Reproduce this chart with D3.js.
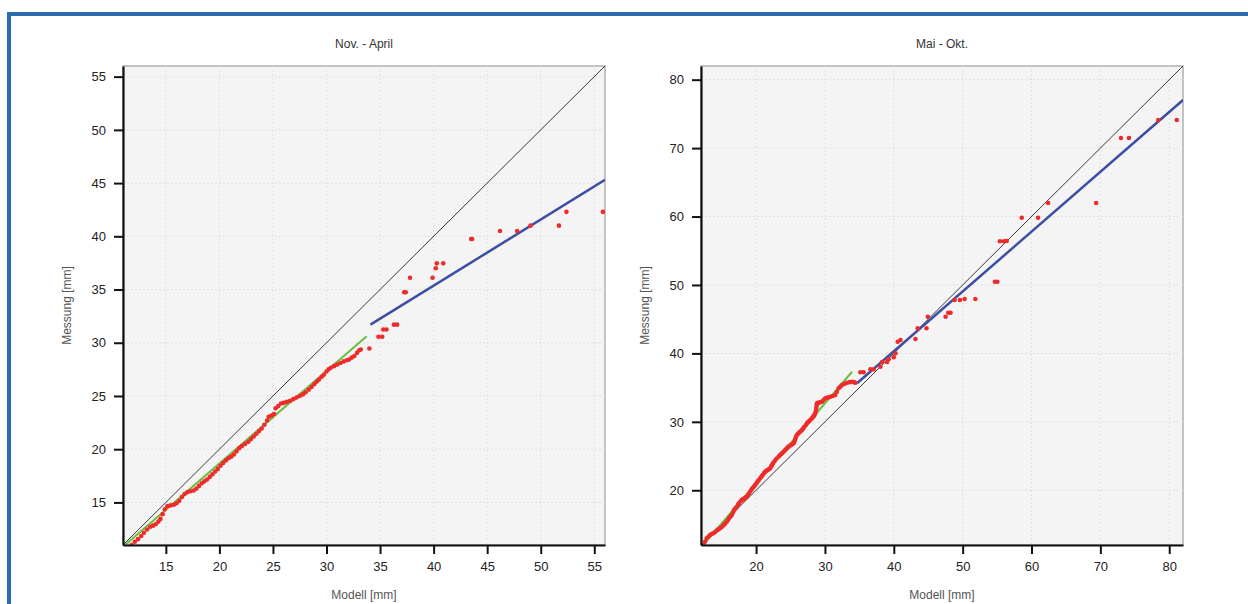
<!DOCTYPE html>
<html><head><meta charset="utf-8">
<script src="https://cdn.jsdelivr.net/npm/d3@7"></script>
<style>body{margin:0;background:#fff;}svg{display:block;}</style>
</head><body>
<svg id="c" width="1248" height="604"></svg>
<script>
// ---------- DATA ----------
const titles = ["Nov. - April", "Mai - Okt."];
const xLabel = "Modell [mm]";
const yLabel = "Messung [mm]";
const novAprDomain = [11, 56];
const maiOktDomain = [12, 82];
const novAprTicks = [15, 20, 25, 30, 35, 40, 45, 50, 55];
const maiOktTicks = [20, 30, 40, 50, 60, 70, 80];

// Nov-April measured vs model quantiles
const novAprPoints = [
[11.8,11.0],[12.1,11.3],[12.4,11.55],[12.7,11.85],[12.95,12.15],[13.25,12.45],[13.55,12.72],[13.8,12.82],
[14.05,12.95],[14.3,13.2],[14.5,13.45],[14.7,13.9],[14.9,14.35],[15.15,14.65],[15.45,14.72],[15.75,14.78],
[16.0,14.92],[16.25,15.15],[16.5,15.5],[16.75,15.78],[17.0,15.95],[17.3,16.05],[17.6,16.12],[17.85,16.3],
[18.1,16.55],[18.35,16.8],[18.6,16.98],[18.85,17.15],[19.1,17.4],[19.35,17.65],[19.6,17.9],[19.85,18.15],
[20.1,18.45],[20.35,18.7],[20.6,18.95],[20.85,19.15],[21.1,19.3],[21.35,19.5],[21.6,19.8],[21.85,20.1],
[22.1,20.3],[22.4,20.5],[22.7,20.7],[22.95,20.95],[23.2,21.2],[23.45,21.45],[23.7,21.7],[23.95,21.95],
[24.2,22.3],[24.45,22.7],[24.6,23.05],[24.85,23.15],[25.1,23.3],[25.25,23.85],[25.5,24.05],[25.75,24.3],
[26.0,24.35],[26.3,24.45],[26.6,24.55],[26.9,24.7],[27.2,24.85],[27.5,25.0],[27.8,25.15],[28.05,25.35],
[28.35,25.6],[28.6,25.85],[28.85,26.1],[29.1,26.35],[29.3,26.55],[29.55,26.8],[29.75,27.0],[30.0,27.3],
[30.2,27.5],[30.4,27.65],[30.7,27.8],[31.0,27.95],[31.3,28.1],[31.6,28.25],[31.9,28.35],[32.1,28.42],
[32.35,28.6],[32.6,28.75],[32.85,29.05],[33.05,29.3],[33.2,29.37],
[34.0,29.46],[34.85,30.56],[35.2,30.56],[35.3,31.25],[35.6,31.25],[36.3,31.7],[36.6,31.7],
[37.25,34.75],[37.4,34.75],[37.8,36.1],[39.9,36.1],[40.2,37.0],[40.3,37.46],[40.9,37.46],
[43.5,39.75],[43.6,39.75],[46.2,40.5],[47.8,40.5],[49.05,41.0],[51.7,41.0],[52.4,42.3],[55.8,42.3]
];
const novAprGreen = [[11.19, 11.0], [33.75, 30.61]];
const novAprBlue = [[34.1, 31.7], [56.0, 45.3]];

// Mai-Okt measured vs model quantiles
const maiOktPoints = [
[12.33,12.0],[12.6,12.5],[12.83,12.98],[13.1,13.25],[13.31,13.46],[13.55,13.6],[13.79,13.71],[14.05,13.9],
[14.28,14.12],[14.52,14.28],[14.77,14.44],[15.0,14.62],[15.25,14.85],[15.5,15.1],[15.74,15.4],[15.95,15.7],
[16.08,15.95],[16.3,16.15],[16.47,16.38],[16.65,16.75],[16.8,17.11],[17.0,17.35],[17.2,17.6],[17.38,17.9],
[17.53,18.14],[17.75,18.4],[17.92,18.58],[18.1,18.7],[18.26,18.8],[18.45,18.92],[18.65,19.06],[18.9,19.4],
[19.13,19.79],[19.3,20.05],[19.5,20.33],[19.7,20.55],[19.86,20.77],[20.05,21.0],[20.22,21.28],[20.4,21.5],
[20.59,21.75],[20.78,22.0],[20.95,22.23],[21.15,22.5],[21.32,22.71],[21.5,22.85],[21.68,22.96],[21.86,23.08],
[22.04,23.21],[22.2,23.5],[22.33,23.76],[22.5,24.0],[22.7,24.28],[22.95,24.6],[23.25,24.9],[23.45,25.1],
[23.64,25.3],[23.82,25.45],[23.98,25.63],[24.2,25.85],[24.37,26.03],[24.55,26.2],[24.71,26.37],[24.9,26.5],
[25.1,26.61],[25.3,26.75],[25.44,26.86],[25.6,27.2],[25.68,27.49],[25.8,27.8],[25.93,28.07],[26.1,28.25],
[26.26,28.44],[26.45,28.6],[26.66,28.81],[26.82,29.0],[26.99,29.24],[27.2,29.5],[27.39,29.78],[27.55,29.95],
[27.72,30.12],[27.9,30.3],[28.11,30.52],[28.25,30.7],[28.38,30.85],[28.5,31.05],[28.59,31.25],[28.68,31.6],
[28.74,32.02],[28.8,32.4],[28.84,32.71],[29.0,32.78],[29.18,32.82],[29.37,32.88],[29.57,32.94],[29.8,33.2],
[30.05,33.44],[30.3,33.5],[30.55,33.6],[30.78,33.67],[31.14,33.77],[31.5,33.92],[31.75,34.4],[31.99,34.9],
[32.25,35.15],[32.48,35.38],[32.85,35.55],[33.21,35.72],[33.6,35.8],[33.94,35.86],[34.2,35.8],[34.42,35.72],
[35.14,37.24],[35.62,37.24],[36.6,37.68],[37.08,37.68],[38.06,38.06],[38.3,38.74],[39.03,38.74],[39.26,39.14],
[39.99,39.43],[40.24,40.01],[40.57,41.71],[40.97,41.96],
[43.15,42.1],[43.48,43.67],[44.75,43.67],[44.94,45.36],[47.52,45.36],[47.91,45.95],[48.24,45.95],
[48.83,47.8],[49.6,47.8],[50.28,47.95],[51.84,47.95],[54.69,50.48],[55.04,50.48],[55.42,56.38],[56.0,56.38],
[56.4,56.42],[58.58,59.83],[60.95,59.83],[62.41,61.98],[69.39,61.98],[72.99,71.48],[74.15,71.48],
[78.4,74.1],[81.1,74.1]
];
const maiOktGreen = [[12.3, 12.0], [33.94, 37.32]];
const maiOktBlue = [[34.66, 35.63], [82.0, 77.03]];

// ---------- DRAW ----------
const svg = d3.select("#c");
const font = "'Liberation Sans', Arial, sans-serif";

// blue frame
svg.append("rect").attr("x", 9).attr("y", 14).attr("width", 1260).attr("height", 620)
  .attr("fill", "none").attr("stroke", "#2a6db0").attr("stroke-width", 4);

const panels = [
  {title: titles[0], domain: novAprDomain, ticks: novAprTicks, pts: novAprPoints, green: novAprGreen, blue: novAprBlue,
   left: 123, right: 605, top: 66, bottom: 545, ylabX: 68},
  {title: titles[1], domain: maiOktDomain, ticks: maiOktTicks, pts: maiOktPoints, green: maiOktGreen, blue: maiOktBlue,
   left: 701, right: 1183, top: 66, bottom: 545, ylabX: 646}
];

panels.forEach((p, i) => {
  const x = d3.scaleLinear().domain(p.domain).range([p.left, p.right]);
  const y = d3.scaleLinear().domain(p.domain).range([p.bottom, p.top]);
  const g = svg.append("g");
  const cid = "clip" + i;
  svg.append("clipPath").attr("id", cid).append("rect")
    .attr("x", p.left).attr("y", p.top).attr("width", p.right - p.left).attr("height", p.bottom - p.top);

  g.append("rect").attr("x", p.left).attr("y", p.top).attr("width", p.right - p.left).attr("height", p.bottom - p.top)
    .attr("fill", "#f4f4f4").attr("stroke", "#8a8a8a").attr("stroke-width", 1);

  // grid
  g.append("g").selectAll("line").data(p.ticks).join("line")
    .attr("x1", d => x(d)).attr("x2", d => x(d)).attr("y1", p.top).attr("y2", p.bottom)
    .attr("stroke", "#e0e0e0").attr("stroke-width", 1).attr("stroke-dasharray", "2,2");
  g.append("g").selectAll("line").data(p.ticks).join("line")
    .attr("y1", d => y(d)).attr("y2", d => y(d)).attr("x1", p.left).attr("x2", p.right)
    .attr("stroke", "#e0e0e0").attr("stroke-width", 1).attr("stroke-dasharray", "2,2");

  const pg = g.append("g").attr("clip-path", `url(#${cid})`);
  const line = d3.line().x(d => x(d[0])).y(d => y(d[1]));
  pg.append("path").attr("d", line([[p.domain[0], p.domain[0]], [p.domain[1], p.domain[1]]]))
    .attr("stroke", "#3a3a3a").attr("stroke-width", 1).attr("fill", "none");
  pg.append("path").attr("d", line(p.green)).attr("stroke", "#6abf3c").attr("stroke-width", 2).attr("fill", "none");
  pg.append("path").attr("d", line(p.blue)).attr("stroke", "#3d4fa3").attr("stroke-width", 2.5).attr("fill", "none");
  pg.append("g").selectAll("circle").data(p.pts).join("circle")
    .attr("cx", d => x(d[0])).attr("cy", d => y(d[1])).attr("r", 2.3).attr("fill", "#ee2b2b");

  // axes
  const xa = g.append("g").attr("transform", `translate(0,${p.bottom})`)
    .call(d3.axisBottom(x).tickValues(p.ticks).tickSize(9).tickPadding(8).tickSizeOuter(0));
  const ya = g.append("g").attr("transform", `translate(${p.left},0)`)
    .call(d3.axisLeft(y).tickValues(p.ticks).tickSize(9).tickPadding(8).tickSizeOuter(0));
  [xa, ya].forEach(a => {
    a.select(".domain").attr("stroke", "#111").attr("stroke-width", 2.2);
    a.selectAll(".tick line").attr("stroke", "#111").attr("stroke-width", 2);
    a.selectAll(".tick text").attr("font-family", font).attr("font-size", 13).attr("fill", "#222");
  });

  svg.append("text").attr("x", (p.left + p.right) / 2).attr("y", 48).attr("text-anchor", "middle")
    .attr("font-family", font).attr("font-size", 12).attr("fill", "#333").text(p.title);
  svg.append("text").attr("x", (p.left + p.right) / 2).attr("y", 599).attr("text-anchor", "middle")
    .attr("font-family", font).attr("font-size", 12).attr("fill", "#555").text(xLabel);
  svg.append("text").attr("transform", `translate(${p.ylabX},${(p.top + p.bottom) / 2}) rotate(-90)`)
    .attr("text-anchor", "middle").attr("dominant-baseline", "middle")
    .attr("font-family", font).attr("font-size", 12).attr("fill", "#555").text(yLabel);
});
</script>
</body></html>
